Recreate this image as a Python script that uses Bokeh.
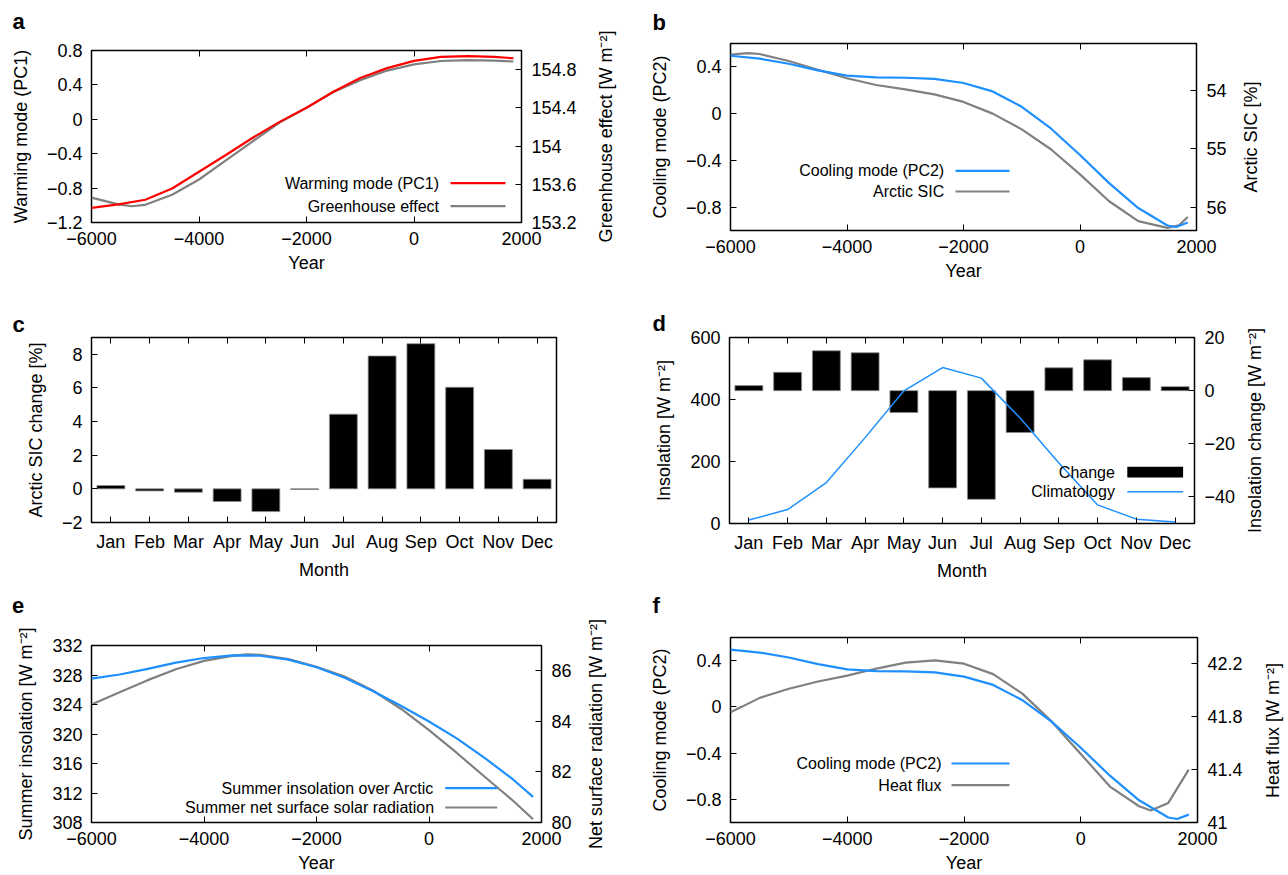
import math
from bokeh.plotting import figure
from bokeh.models import (Range1d, LinearAxis, FixedTicker, CustomJSTickFormatter,
                          Label, Arrow)
from bokeh.layouts import column, row
from bokeh.embed import file_html
from bokeh.resources import INLINE

FONT = "Liberation Sans"
RED = "#ff0000"
BLUE = "#1e8fff"
GREY = "#808080"

# ---------------- data ----------------
years_pc1 = [-6000, -5500, -5000, -4500, -4000, -3500, -3000, -2500, -2000, -1500,
             -1000, -500, 0, 500, 1000, 1500, 1850]
pc1 = [-1.03, -0.99, -0.935, -0.805, -0.61, -0.415, -0.215, -0.03, 0.135, 0.32,
       0.48, 0.595, 0.68, 0.725, 0.735, 0.725, 0.71]

years_ghe = [-6000, -5500, -5250, -5000, -4500, -4000, -3500, -3000, -2500, -2000,
             -1500, -1000, -500, 0, 500, 1000, 1500, 1850]
greenhouse = [153.46, 153.39, 153.37, 153.385, 153.49, 153.65, 153.85, 154.05, 154.245,
              154.40, 154.565, 154.69, 154.79, 154.855, 154.89, 154.9, 154.895, 154.885]

years_pc2 = [-6000, -5500, -5000, -4500, -4000, -3500, -3000, -2500, -2000, -1500,
             -1000, -500, 0, 500, 1000, 1500, 1650, 1850]
pc2 = [0.495, 0.47, 0.427, 0.37, 0.325, 0.31, 0.307, 0.298, 0.262, 0.19,
       0.058, -0.127, -0.354, -0.595, -0.808, -0.957, -0.97, -0.932]

years_sic = [-6000, -5700, -5500, -5000, -4500, -4000, -3500, -3000, -2500, -2000,
             -1500, -1000, -500, 0, 500, 1000, 1500, 1700, 1850]
arctic_sic = [53.39, 53.365, 53.38, 53.5, 53.65, 53.795, 53.91, 53.985, 54.07, 54.2,
              54.4, 54.67, 55.01, 55.44, 55.9, 56.24, 56.355, 56.31, 56.17]

months = ["Jan", "Feb", "Mar", "Apr", "May", "Jun", "Jul", "Aug", "Sep", "Oct", "Nov", "Dec"]
month_num = list(range(1, 13))
sic_change = [0.2, -0.12, -0.2, -0.75, -1.35, -0.04, 4.44, 7.9, 8.63, 6.04, 2.34, 0.57]
insol_change = [1.9, 6.9, 15.0, 14.25, -8.25, -36.6, -40.9, -15.75, 8.6, 11.6, 4.9, 1.5]
insol_clim = [11, 45, 132, 277, 428, 503, 469, 340, 195, 60, 14, 5]

years_ins = [-6000, -5500, -5000, -4500, -4000, -3500, -3000, -2500, -2000, -1500,
             -1000, -500, 0, 500, 1000, 1500, 1850]
summer_insol = [327.5, 328.07, 328.83, 329.68, 330.3, 330.66, 330.61, 330.08, 329.05,
                327.63, 325.84, 323.83, 321.69, 319.37, 316.7, 313.8, 311.48]

years_nsr = [-6000, -5500, -5000, -4500, -4000, -3500, -3250, -3000, -2500, -2000,
             -1500, -1000, -500, 0, 500, 1000, 1500, 1850]
net_solar = [84.67, 85.15, 85.63, 86.06, 86.39, 86.59, 86.65, 86.63, 86.46, 86.16,
             85.77, 85.22, 84.5, 83.65, 82.74, 81.79, 80.85, 80.13]

years_hf = [-6000, -5800, -5500, -5000, -4500, -4000, -3500, -3000, -2500, -2000,
            -1500, -1000, -500, 0, 500, 1000, 1200, 1500, 1850]
heat_flux = [41.835, 41.877, 41.943, 42.012, 42.067, 42.111, 42.165, 42.21, 42.227,
             42.202, 42.123, 41.975, 41.765, 41.519, 41.272, 41.123, 41.091, 41.148, 41.4]

year_ticks = [-6000, -4000, -2000, 0, 2000]

MINUS_JS = "return String(tick).replace('-', '\\u2212');"
EMPTY_JS = "return '';"


# ---------------- helpers ----------------
def no_align(p):
    try:
        p.frame_align = False
    except Exception:
        pass


def base_fig(w, h, bl, br, bt, bb, xr, yr):
    p = figure(width=w, height=h, x_range=xr, y_range=yr, output_backend="svg",
               toolbar_location=None, min_border_left=bl, min_border_right=br,
               min_border_top=bt, min_border_bottom=bb)
    no_align(p)
    p.grid.visible = False
    p.outline_line_color = "black"
    p.outline_line_width = 1.5
    p.outline_line_alpha = 1.0
    p.background_fill_color = "white"
    p.border_fill_color = "white"
    return p


def style(ax, ticks, fmt=True):
    ax.ticker = FixedTicker(ticks=ticks, minor_ticks=[])
    if fmt:
        ax.formatter = CustomJSTickFormatter(code=MINUS_JS)
    ax.major_tick_in = 6
    ax.major_tick_out = 0
    ax.minor_tick_line_color = None
    ax.axis_line_color = None
    ax.major_tick_line_color = "black"
    ax.major_tick_line_width = 1
    ax.major_label_text_font = FONT
    ax.major_label_text_font_size = "18px"
    ax.major_label_text_color = "black"
    ax.axis_label_text_font = FONT
    ax.axis_label_text_font_size = "18px"
    ax.axis_label_text_font_style = "normal"
    ax.axis_label_text_color = "black"


def setup_axes(p, xticks, yticks, xlabel, ylabel, rticks=None, rname="r", month_axis=False):
    bx = p.xaxis[0]
    style(bx, xticks, fmt=not month_axis)
    if month_axis:
        bx.major_label_overrides = {m: n for m, n in zip(month_num, months)}
    bx.axis_label = xlabel
    bx.major_label_standoff = 9
    bx.axis_label_standoff = 5
    ly = p.yaxis[0]
    style(ly, yticks)
    ly.axis_label = ylabel
    ly.major_label_standoff = 9
    ly.axis_label_standoff = 13
    top = LinearAxis()
    style(top, xticks, fmt=False)
    top.formatter = CustomJSTickFormatter(code=EMPTY_JS)
    top.major_label_text_font_size = "1px"
    top.major_label_standoff = 0
    top.minor_tick_out = 0
    top.minor_tick_in = 0
    p.add_layout(top, "above")
    if rticks is not None:
        ra = LinearAxis(y_range_name=rname)
        style(ra, rticks)
        ra.major_label_standoff = 10
        p.add_layout(ra, "right")


def side_label(width, height, lb, bt, bb, txt):
    """A narrow companion figure whose (left) axis label acts as the right-hand axis title."""
    q = figure(width=width, height=height, x_range=Range1d(0, 1), y_range=Range1d(0, 1),
               output_backend="svg", toolbar_location=None,
               min_border_left=lb, min_border_right=0, min_border_top=bt, min_border_bottom=bb)
    no_align(q)
    q.grid.visible = False
    q.outline_line_color = None
    q.background_fill_color = "white"
    q.border_fill_color = "white"
    q.xaxis.visible = False
    ax = q.yaxis[0]
    ax.ticker = FixedTicker(ticks=[], minor_ticks=[])
    ax.major_tick_out = 0
    ax.major_tick_in = 0
    ax.minor_tick_out = 0
    ax.minor_tick_in = 0
    ax.major_tick_line_color = None
    ax.minor_tick_line_color = None
    ax.axis_line_color = None
    ax.major_label_standoff = 0
    ax.axis_label = txt
    ax.axis_label_standoff = 0
    ax.axis_label_text_font = FONT
    ax.axis_label_text_font_size = "18px"
    ax.axis_label_text_font_style = "normal"
    ax.axis_label_text_color = "black"
    return q


def text(p, x, y, t, size="16px", align="left"):
    p.add_layout(Label(x=x, y=y, x_units="screen", y_units="screen", text=t,
                       text_font=FONT, text_font_size=size, text_font_style="normal",
                       text_align=align, text_baseline="middle", text_color="black"))


def key_line(p, x0, x1, y, color, width=2.2):
    p.add_layout(Arrow(x_start=x0, y_start=y, x_end=x1, y_end=y,
                       start_units="screen", end_units="screen", start=None, end=None,
                       line_color=color, line_width=width))


def letter(p, t, offset, line_h=None, standoff=0):
    p.title.text = t if line_h is None else t + "\n "
    if line_h is not None:
        p.title.text_line_height = line_h
    p.title.align = "left"
    p.title.offset = offset
    p.title.standoff = standoff
    p.title.text_font = FONT
    p.title.text_font_size = "22px"
    p.title.text_font_style = "bold"
    p.title.text_color = "black"


WM = "[W m\u207b\u00b2]"

# ---------------- panel a ----------------
pa = base_fig(580, 300, 91, 59, 50, 78, Range1d(-6000, 2000), Range1d(-1.2, 0.8))
pa.extra_y_ranges = {"r": Range1d(153.2, 155.0)}
setup_axes(pa, year_ticks, [-1.2, -0.8, -0.4, 0, 0.4, 0.8], "Year", "Warming mode (PC1)",
           rticks=[153.2, 153.6, 154, 154.4, 154.8])
pa.line(years_ghe, greenhouse, y_range_name="r", line_color=GREY, line_width=2.2)
pa.line(years_pc1, pc1, line_color=RED, line_width=2.2)
text(pa, 347.5, 39.3, "Warming mode (PC1)", align="right")
key_line(pa, 359, 414, 39.3, RED)
text(pa, 347.5, 16.3, "Greenhouse effect", align="right")
key_line(pa, 359, 414, 16.3, GREY)
letter(pa, "a", -79, line_h=0.65)
la = side_label(64, 300, 35, 50, 78, "Greenhouse effect " + WM)

# ---------------- panel b ----------------
pb = base_fig(585, 300, 86, 32, 43, 70, Range1d(-6000, 2000), Range1d(-1.0, 0.6))
pb.extra_y_ranges = {"r": Range1d(56.4, 53.2)}
setup_axes(pb, year_ticks, [-0.8, -0.4, 0, 0.4], "Year", "Cooling mode (PC2)",
           rticks=[54, 55, 56])
pb.line(years_sic, arctic_sic, y_range_name="r", line_color=GREY, line_width=2.2)
pb.line(years_pc2, pc2, line_color=BLUE, line_width=2.2)
text(pb, 213.7, 59.7, "Cooling mode (PC2)", align="right")
key_line(pb, 225, 279, 59.7, BLUE)
text(pb, 213.7, 39, "Arctic SIC", align="right")
key_line(pb, 225, 279, 39, GREY)
letter(pb, "b", -78, line_h=0.35)
lb = side_label(59, 300, 31, 43, 70, "Arctic SIC [%]")

# ---------------- panel c ----------------
pc = base_fig(644, 290, 91, 88, 37, 68, Range1d(0.5, 12.5), Range1d(-2, 9))
setup_axes(pc, month_num, [-2, 0, 2, 4, 6, 8], "Month", "Arctic SIC change [%]",
           month_axis=True)
pc.vbar(x=month_num, top=sic_change, bottom=0, width=0.72, fill_color="black",
        line_color="#8c8c8c", line_width=0.8)
letter(pc, "c", -79, standoff=1)

# ---------------- panel d ----------------
pd_ = base_fig(594, 290, 85, 43, 37, 67, Range1d(0.5, 12.5), Range1d(0, 600))
pd_.extra_y_ranges = {"r": Range1d(-50, 20)}
setup_axes(pd_, month_num, [0, 200, 400, 600], "Month", "Insolation " + WM,
           rticks=[-40, -20, 0, 20], month_axis=True)
pd_.vbar(x=month_num, top=insol_change, bottom=0, width=0.72, y_range_name="r",
         fill_color="black", line_color="#8c8c8c", line_width=0.8)
pd_.line(month_num, insol_clim, line_color=BLUE, line_width=1.5)
text(pd_, 385.4, 51, "Change", align="right")
key_line(pd_, 397.8, 453.6, 51.3, "black", width=10.7)
text(pd_, 385.4, 31.7, "Climatology", align="right")
key_line(pd_, 397.8, 453.6, 31.7, BLUE, width=1.5)
letter(pd_, "d", -77, standoff=3)
ld = side_label(50, 290, 26, 37, 67, "Insolation change " + WM)

# ---------------- panel e ----------------
pe = base_fig(574, 285, 91, 32, 54, 52, Range1d(-6000, 2000), Range1d(308, 332))
pe.extra_y_ranges = {"r": Range1d(80, 87)}
setup_axes(pe, year_ticks, [308, 312, 316, 320, 324, 328, 332], "Year",
           "Summer insolation " + WM, rticks=[80, 82, 84, 86])
pe.line(years_nsr, net_solar, y_range_name="r", line_color=GREY, line_width=2.2)
pe.line(years_ins, summer_insol, line_color=BLUE, line_width=2.2)
text(pe, 342.6, 34.3, "Summer insolation over Arctic", align="right")
key_line(pe, 353.7, 405.7, 34.3, BLUE)
text(pe, 342.6, 15, "Summer net surface solar radiation", align="right")
key_line(pe, 353.7, 405.7, 15, GREY)
letter(pe, "e", -79.5, line_h=1.12)
le = side_label(70, 285, 31, 54, 52, "Net surface radiation " + WM)

# ---------------- panel f ----------------
pf = base_fig(601, 285, 86, 47, 47, 52, Range1d(-6000, 2000), Range1d(-1.0, 0.6))
pf.extra_y_ranges = {"r": Range1d(41.0, 42.4)}
setup_axes(pf, year_ticks, [-0.8, -0.4, 0, 0.4], "Year", "Cooling mode (PC2)",
           rticks=[41, 41.4, 41.8, 42.2])
pf.line(years_hf, heat_flux, y_range_name="r", line_color=GREY, line_width=2.2)
pf.line(years_pc2, pc2, line_color=BLUE, line_width=2.2)
text(pf, 211, 59, "Cooling mode (PC2)", align="right")
key_line(pf, 221, 279, 59, BLUE)
text(pf, 211, 37.3, "Heat flux", align="right")
key_line(pf, 221, 279, 37.3, GREY)
letter(pf, "f", -78, line_h=0.8)
lf = side_label(43, 285, 37, 47, 52, "Heat flux " + WM)

layout = column(row(pa, la, pb, lb), row(pc, pd_, ld), row(pe, le, pf, lf))

open("out.html", "w").write(file_html(layout, INLINE))
